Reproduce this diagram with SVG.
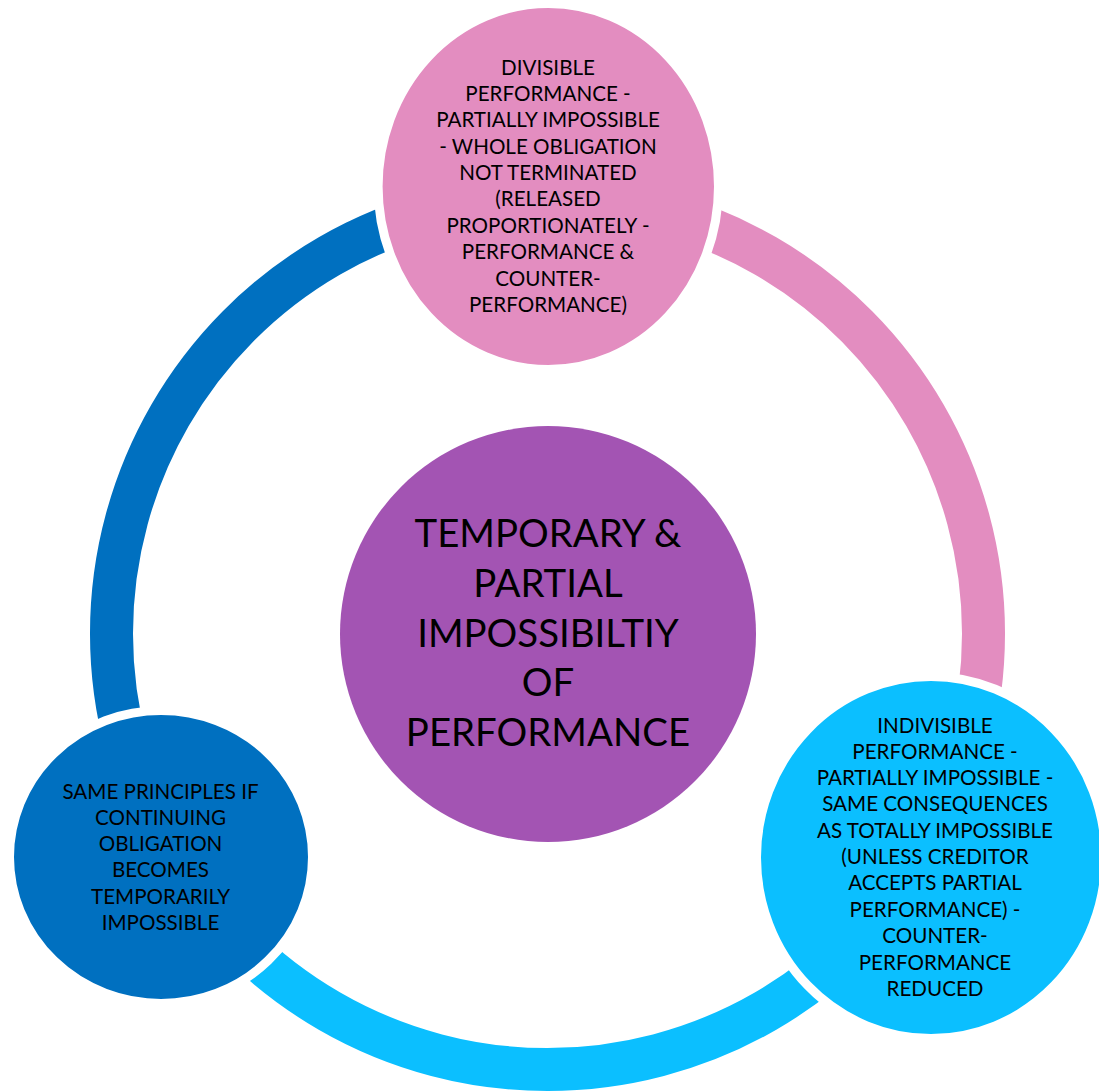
<svg xmlns="http://www.w3.org/2000/svg" width="1099" height="1092" viewBox="0 0 1099 1092">
<style>
.ring{fill:none;stroke-width:43}
.node{stroke:#fff;stroke-width:9}
.t{font-family:Lato,"Open Sans","Liberation Sans",sans-serif;font-size:20.6px;fill:#000;text-anchor:middle}
.big{font-size:38.4px}
</style>
<rect width="1099" height="1092" fill="#fff"/>
<g id="connectors">
<path class="ring" stroke="#E38DC0" d="M547.5,197.5 A436,436 0 0 1 925.1,851.5"/>
<path class="ring" stroke="#0BBFFF" d="M925.1,851.5 A436,436 0 0 1 169.9,851.5"/>
<path class="ring" stroke="#0070C0" d="M169.9,851.5 A436,436 0 0 1 547.5,197.5"/>
</g>
<g id="center">
<circle cx="548" cy="634" r="208" fill="#A354B3"/>
<text class="t big"><tspan x="548" y="547">TEMPORARY &amp;</tspan><tspan x="548" y="597">PARTIAL</tspan><tspan x="548" y="647">IMPOSSIBILTIY</tspan><tspan x="548" y="696">OF</tspan><tspan x="548" y="746">PERFORMANCE</tspan></text>
</g>
<g id="top">
<ellipse class="node" cx="548.3" cy="186.5" rx="170.2" ry="183" fill="#E38DC0"/>
<text class="t"><tspan x="548" y="75">DIVISIBLE</tspan><tspan x="548" y="101">PERFORMANCE -</tspan><tspan x="548" y="127">PARTIALLY IMPOSSIBLE</tspan><tspan x="548" y="153.5">- WHOLE OBLIGATION</tspan><tspan x="548" y="179.5">NOT TERMINATED</tspan><tspan x="548" y="206">(RELEASED</tspan><tspan x="548" y="232.5">PROPORTIONATELY -</tspan><tspan x="548" y="259">PERFORMANCE &amp;</tspan><tspan x="548" y="285.5">COUNTER-</tspan><tspan x="548" y="312">PERFORMANCE)</tspan></text>
</g>
<g id="right">
<ellipse class="node" cx="931" cy="857.5" rx="174.5" ry="181" fill="#0BBFFF"/>
<text class="t"><tspan x="935" y="732.5">INDIVISIBLE</tspan><tspan x="935" y="759">PERFORMANCE -</tspan><tspan x="935" y="785">PARTIALLY IMPOSSIBLE -</tspan><tspan x="935" y="811">SAME CONSEQUENCES</tspan><tspan x="935" y="837.5">AS TOTALLY IMPOSSIBLE</tspan><tspan x="935" y="863.5">(UNLESS CREDITOR</tspan><tspan x="935" y="890">ACCEPTS PARTIAL</tspan><tspan x="935" y="916.5">PERFORMANCE) -</tspan><tspan x="935" y="943">COUNTER-</tspan><tspan x="935" y="969.5">PERFORMANCE</tspan><tspan x="935" y="995.5">REDUCED</tspan></text>
</g>
<g id="left">
<ellipse class="node" cx="161" cy="857" rx="151.5" ry="146.5" fill="#0070C0"/>
<text class="t"><tspan x="160.5" y="798.5">SAME PRINCIPLES IF</tspan><tspan x="160.5" y="824.5">CONTINUING</tspan><tspan x="160.5" y="851">OBLIGATION</tspan><tspan x="160.5" y="877">BECOMES</tspan><tspan x="160.5" y="903.5">TEMPORARILY</tspan><tspan x="160.5" y="930">IMPOSSIBLE</tspan></text>
</g>
</svg>
